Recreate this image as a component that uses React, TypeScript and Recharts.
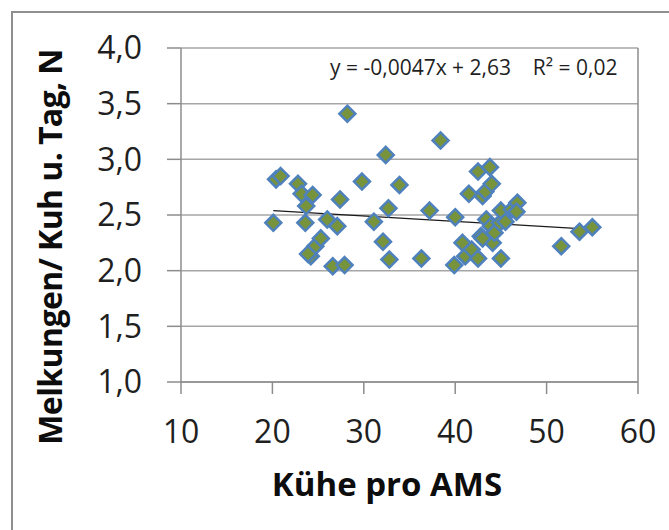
import React from 'react';
import {
  ScatterChart,
  Scatter,
  XAxis,
  YAxis,
  CartesianGrid,
  ReferenceLine,
} from 'recharts';

// Kühe pro AMS (x) vs. Melkungen je Kuh und Tag (y)
const cows = [
  20.1, 20.4, 20.9, 22.8, 23.2, 23.7, 24.4, 23.6, 24.2, 24.7, 25.3, 26.0, 26.6, 27.1,
  27.4, 27.9, 28.2, 29.8, 31.1, 32.1, 32.4, 32.7, 32.8, 33.9, 36.3, 37.2, 38.4, 39.9,
  40.0, 40.8, 41.1, 41.5, 41.8, 42.5, 42.5, 42.8, 43.0, 43.3, 43.8, 44.0, 43.4, 43.9,
  44.1, 44.3, 44.9, 45.0, 45.0, 45.5, 46.2, 46.8, 46.7, 51.6, 53.6, 55.0, 43.0, 23.9,
];
const milkings = [
  2.43, 2.82, 2.85, 2.78, 2.69, 2.58, 2.68, 2.43, 2.13, 2.22, 2.29, 2.46, 2.04, 2.40,
  2.64, 2.05, 3.41, 2.80, 2.44, 2.26, 3.04, 2.56, 2.10, 2.77, 2.11, 2.54, 3.17, 2.05,
  2.48, 2.25, 2.13, 2.69, 2.19, 2.89, 2.11, 2.31, 2.67, 2.71, 2.93, 2.78, 2.46, 2.40,
  2.25, 2.34, 2.43, 2.54, 2.11, 2.44, 2.55, 2.61, 2.53, 2.22, 2.35, 2.39, 2.29, 2.15,
];

// trend line ends (y = -0,0047x + 2,63)
const trendX = [20.1, 55.0];
const trendY = [2.54, 2.37];

const xTicks = [10, 20, 30, 40, 50, 60];
const yTicks = [1, 1.5, 2, 2.5, 3, 3.5, 4];

const points = cows.map((x, i) => ({ x, y: milkings[i] }));

const FONT = '"Open Sans", "Noto Sans", sans-serif';

const Diamond = (props: any) => {
  const { cx, cy } = props;
  if (cx == null || cy == null) return null;
  const r = 8;
  return (
    <path
      d={`M${cx},${cy - r} L${cx + r},${cy} L${cx},${cy + r} L${cx - r},${cy} Z`}
      fill="#77933c"
      stroke="#4f81bd"
      strokeWidth={2.5}
      strokeLinejoin="miter"
    />
  );
};

export default function App() {
  const tick = { fontSize: 32, fontFamily: FONT, fill: '#1f1f1f' };
  return (
    <div
      style={{
        position: 'fixed',
        left: 0,
        top: 0,
        width: 669,
        height: 530,
        overflow: 'hidden',
        background: '#fff',
      }}
    >
      <div
        style={{
          position: 'absolute',
          left: 11,
          top: 11,
          width: 700,
          height: 600,
          border: '2px solid #8f8f8f',
        }}
      />
      <div style={{ position: 'absolute', left: 0, top: 0 }}>
        <ScatterChart
          width={669}
          height={530}
          margin={{ top: 48, right: 31, bottom: 88, left: 81 }}
        >
          <CartesianGrid vertical={false} stroke="#a6a6a6" strokeWidth={1.5} />
          <XAxis
            type="number"
            dataKey="x"
            domain={[10, 60]}
            ticks={xTicks}
            height={60}
            tick={tick}
            tickSize={12}
            tickMargin={26}
            axisLine={{ stroke: '#8c8c8c', strokeWidth: 1.5 }}
            tickLine={{ stroke: '#8c8c8c', strokeWidth: 1.5 }}
            interval={0}
          />
          <YAxis
            type="number"
            dataKey="y"
            domain={[1, 4]}
            ticks={yTicks}
            width={100}
            tick={tick}
            tickSize={14}
            tickMargin={25}
            tickFormatter={(v: number) => v.toFixed(1).replace('.', ',')}
            axisLine={{ stroke: '#8c8c8c', strokeWidth: 1.5 }}
            tickLine={{ stroke: '#8c8c8c', strokeWidth: 1.5 }}
            interval={0}
          />
          <ReferenceLine x={60} stroke="#8c8c8c" strokeWidth={1.5} />
          <Scatter
            data={points}
            shape={<Diamond />}
            isAnimationActive={false}
          />
          <ReferenceLine
            segment={[
              { x: trendX[0], y: trendY[0] },
              { x: trendX[1], y: trendY[1] },
            ]}
            stroke="#1a1a1a"
            strokeWidth={1.2}
          />
        </ScatterChart>
      </div>
      <div
        style={{
          position: 'absolute',
          left: 330,
          top: 53,
          fontFamily: FONT,
          fontSize: 21,
          color: '#1f1f1f',
          whiteSpace: 'pre',
          letterSpacing: 0,
        }}
      >
        {'y = -0,0047x + 2,63    R² = 0,02'}
      </div>
      <div
        style={{
          position: 'absolute',
          left: 187,
          top: 462,
          width: 400,
          textAlign: 'center',
          fontFamily: FONT,
          fontWeight: 700,
          fontSize: 33,
          lineHeight: '44px',
          color: '#0d0d0d',
        }}
      >
        Kühe pro AMS
      </div>
      <div
        style={{
          position: 'absolute',
          left: 50 - 250,
          top: 247 - 22,
          width: 500,
          height: 44,
          lineHeight: '44px',
          textAlign: 'center',
          transform: 'rotate(-90deg)',
          fontFamily: FONT,
          fontWeight: 700,
          fontSize: 32,
          letterSpacing: -0.6,
          color: '#0d0d0d',
          whiteSpace: 'nowrap',
        }}
      >
        Melkungen/ Kuh u. Tag, N
      </div>
    </div>
  );
}
